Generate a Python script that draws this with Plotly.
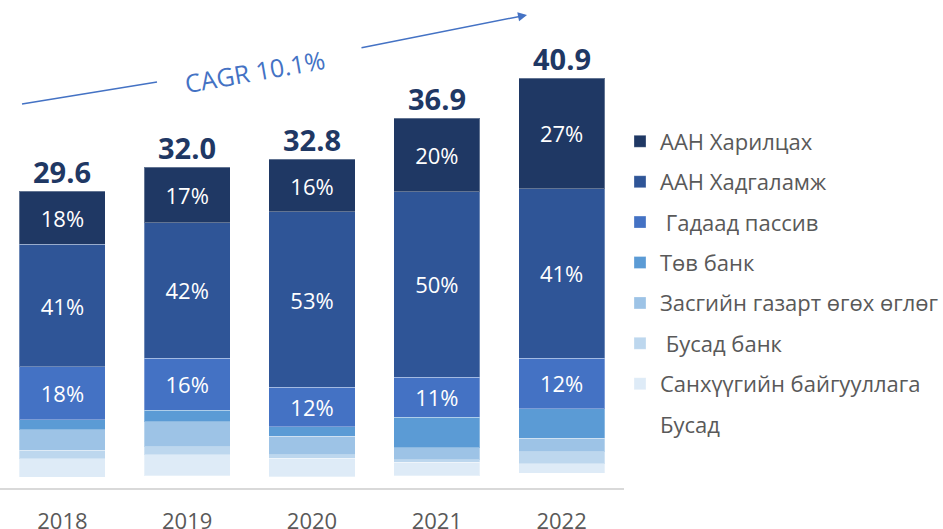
import plotly.graph_objects as go

years = ["2018", "2019", "2020", "2021", "2022"]
totals = [29.6, 32.0, 32.8, 36.9, 40.9]

# shares (%) of each source, bottom of stack first
busad = [3.6, 3.8, 3.5, 3.3, 3.6]
sanhuu = [6.3, 6.5, 5.6, 3.7, 2.3]
busad_bank = [2.8, 2.5, 1.0, 0.6, 3.0]
zasgiin = [6.9, 7.8, 5.6, 3.3, 3.3]
tov_bank = [3.4, 3.6, 3.0, 8.3, 7.1]
gadaad = [17.8, 16.2, 11.9, 10.8, 12.4]
hadgalamj = [41.4, 42.4, 53.4, 50.1, 41.3]
harilcah = [17.8, 17.2, 16.0, 19.9, 27.0]

series = [
    ("Бусад", busad, "#FFFFFF", False),
    ("Санхүүгийн байгууллага", sanhuu, "#DEEBF7", False),
    ("\u00a0Бусад банк", busad_bank, "#BDD7EE", False),
    ("Засгийн газарт өгөх өглөг", zasgiin, "#9DC3E6", False),
    ("Төв банк", tov_bank, "#5B9BD5", False),
    ("\u00a0Гадаад пассив", gadaad, "#4472C4", True),
    ("ААН Хадгаламж", hadgalamj, "#2F5597", True),
    ("ААН Харилцах", harilcah, "#1F3864", True),
]

FONT = "Open Sans"
fig = go.Figure()
n = len(series)
for i, (name, shares, color, labeled) in enumerate(series):
    vals = [t * s / 100 for t, s in zip(totals, shares)]
    fig.add_trace(go.Bar(
        x=years, y=vals, name=name, legendgroup=f"g{i}", legendrank=100 * (n - i),
        marker=dict(color=color,
                    line=dict(color="rgba(255,255,255,0.3)" if color != "#FFFFFF" else "#FFFFFF", width=1)),
        text=[f"{round(s)}%" for s in shares] if labeled else None,
        textposition="inside" if labeled else "none",
        insidetextanchor="middle", textangle=0, constraintext="none",
        textfont=dict(family=FONT, size=22, color="white"),
        hoverinfo="skip",
    ))

# totals above the bars (category index positions)
for idx, t in enumerate(totals):
    fig.add_annotation(x=idx, y=t, text=f"<b>{t:.1f}</b>", showarrow=False,
                       xref="x", yref="y", yanchor="bottom", yshift=-2,
                       font=dict(family=FONT, size=29, color="#1F3864"))

W = 624.0
H = 488.0
def px(xp):
    return xp / W
def py(yp):
    return (H - yp) / H

# CAGR arrow decoration
fig.add_shape(type="line", xref="paper", yref="paper",
              x0=px(22), y0=py(104), x1=px(157), y1=py(82),
              line=dict(color="#4472C4", width=1.5))
fig.add_annotation(xref="paper", yref="paper", x=px(527), y=py(15),
                   ax=360 - 527, ay=48 - 15, text="", showarrow=True,
                   arrowhead=2, arrowsize=1.2, arrowwidth=1.5, arrowcolor="#4472C4")
fig.add_annotation(xref="paper", yref="paper", x=px(255), y=py(71),
                   xanchor="center", yanchor="middle",
                   text="CAGR 10.1%", showarrow=False, textangle=-10,
                   font=dict(family=FONT, size=25, color="#4472C4"))

fig.update_layout(
    barmode="stack", bargap=0.31,
    width=943, height=529,
    margin=dict(l=0, r=319, t=0, b=41, autoexpand=False),
    plot_bgcolor="white", paper_bgcolor="white",
    font=dict(family=FONT, color="#595959"),
    legend=dict(traceorder="grouped", tracegroupgap=8.8,
                x=620 / W, xanchor="left", y=py(283), yanchor="middle",
                font=dict(family=FONT, size=22, color="#595959"),
                bgcolor="rgba(0,0,0,0)"),
    xaxis=dict(type="category", range=[-0.5, 4.5], showline=True,
               linecolor="#D9D9D9", linewidth=2,
               ticks="outside", ticklen=13, tickcolor="rgba(0,0,0,0)",
               tickfont=dict(family=FONT, size=22, color="#595959"),
               showgrid=False, fixedrange=True, automargin=False),
    yaxis=dict(visible=False, range=[0, 48.7], showgrid=False, fixedrange=True),
)

fig.write_html("out.html", config={"displayModeBar": False},
               post_script="document.body.style.margin='0';document.body.style.overflow='hidden';")
